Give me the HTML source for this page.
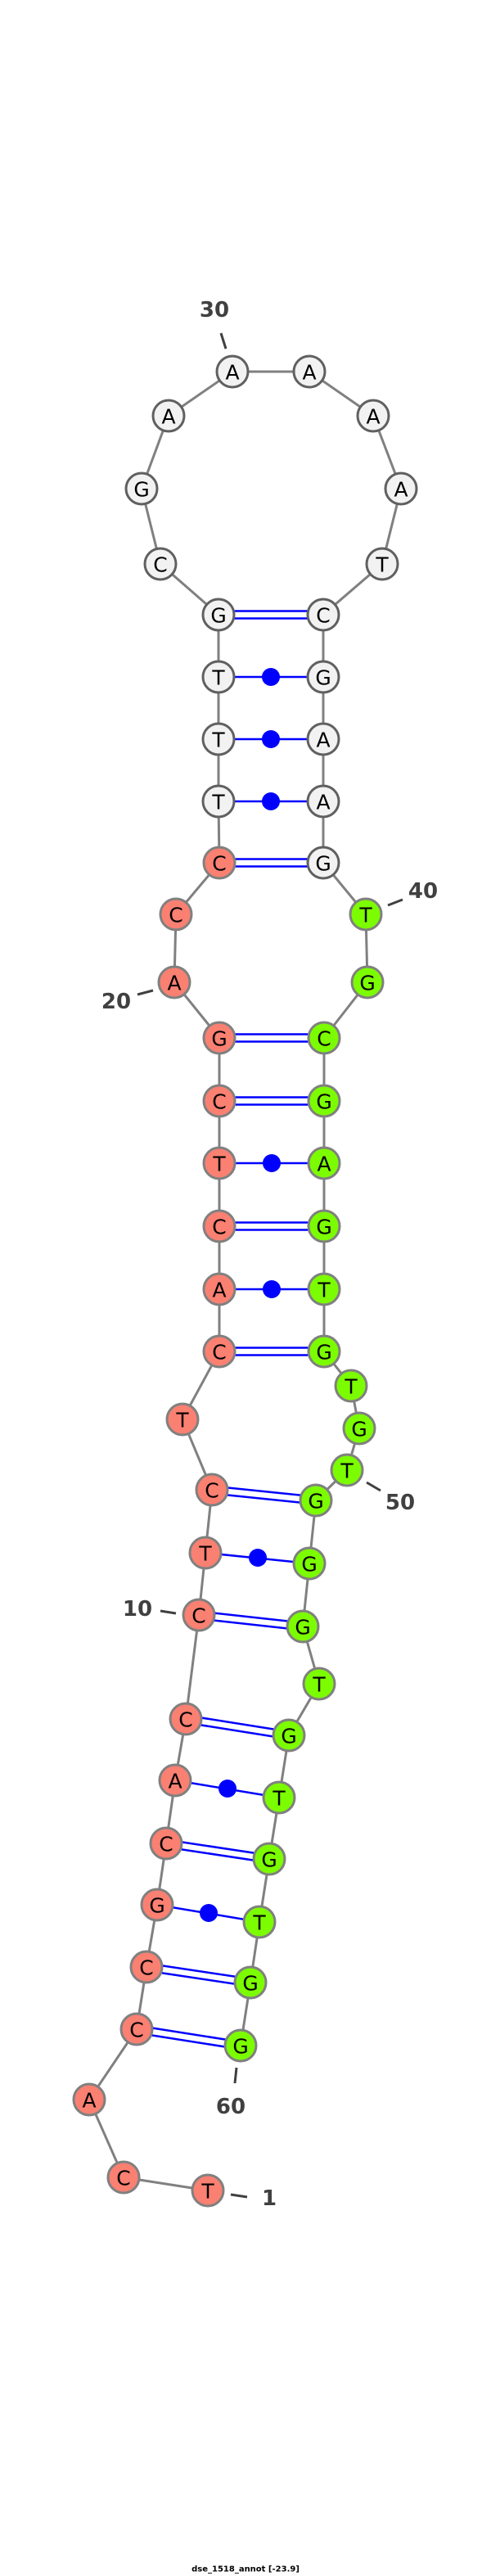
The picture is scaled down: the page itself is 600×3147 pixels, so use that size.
<!DOCTYPE html>
<html><head><meta charset="utf-8"><style>
html,body{margin:0;padding:0;background:#fff;}
svg{display:block;}
.b{stroke:#808080;stroke-width:3;fill:none;}
.p{stroke:#0000ff;stroke-width:2.5;fill:none;}
.w{fill:#f2f2f2;stroke:#606060;stroke-width:3;}
.s{fill:#fa8072;stroke:#808080;stroke-width:3;}
.g{fill:#7cfc00;stroke:#808080;stroke-width:3;}
.n text,text.n{font-family:"DejaVu Sans","Liberation Sans",sans-serif;font-size:25px;fill:#000;text-anchor:middle;dominant-baseline:central;}
.l{font-family:"DejaVu Sans","Liberation Sans",sans-serif;font-size:26px;font-weight:bold;fill:#404040;text-anchor:middle;dominant-baseline:central;}
.t{stroke:#404040;stroke-width:3;}
</style></head><body>
<svg width="600" height="3147" viewBox="0 0 600 3147" xmlns="http://www.w3.org/2000/svg">
<polyline class="b" points="254,2676 151,2660 109,2565 167,2479 179,2403 192,2327 203,2252 214,2175 227,2100 243,1973 251,1897 259,1820 223,1734 268,1651 268,1575 268,1498 268,1421 268,1345 268,1268 213,1200 215,1117 268,1054 267,979 267,903 267,827 267,751 196,689 173,597 206,508 284,454 378,454 456,508 490,597 467,689 395,751 395,827 395,903 395,979 395,1054 447,1117 449,1200 396,1268 396,1345 396,1421 396,1498 396,1575 396,1651 429,1693 439,1745 424,1796 386,1833 378,1910 370,1987 390,2057 353,2120 341,2196 329,2271 317,2348 306,2422 294,2499"/>
<!-- double pairs -->
<g class="p">
<path d="M267,746.5 L395,746.5 M267,755.5 L395,755.5"/>
<path d="M268,1049.5 L395,1049.5 M268,1058.5 L395,1058.5"/>
<path d="M268,1263.5 L396,1263.5 M268,1272.5 L396,1272.5"/>
<path d="M268,1340.5 L396,1340.5 M268,1349.5 L396,1349.5"/>
<path d="M268,1493.5 L396,1493.5 M268,1502.5 L396,1502.5"/>
<path d="M268,1646.5 L396,1646.5 M268,1655.5 L396,1655.5"/>
<path d="M259,1815.5 L386,1828.5 M259,1824.5 L386,1837.5"/>
<path d="M243,1968.5 L370,1982.5 M243,1977.5 L370,1991.5"/>
<path d="M227,2095.5 L353,2115.5 M227,2104.5 L353,2124.5"/>
<path d="M203,2247.5 L329,2266.5 M203,2256.5 L329,2275.5"/>
<path d="M179,2398.5 L306,2417.5 M179,2407.5 L306,2426.5"/>
<path d="M167,2474.5 L294,2494.5 M167,2483.5 L294,2503.5"/>
</g>
<!-- dot pairs -->
<g class="p">
<line x1="267" y1="827" x2="395" y2="827"/>
<line x1="267" y1="903" x2="395" y2="903"/>
<line x1="267" y1="979" x2="395" y2="979"/>
<line x1="268" y1="1421" x2="396" y2="1421"/>
<line x1="268" y1="1575" x2="396" y2="1575"/>
<line x1="251" y1="1897" x2="378" y2="1910"/>
<line x1="214" y1="2175" x2="341" y2="2196"/>
<line x1="192" y1="2327" x2="317" y2="2348"/>
</g>
<g fill="#0000ff">
<circle cx="331" cy="827" r="11"/>
<circle cx="331" cy="903" r="11"/>
<circle cx="331" cy="979" r="11"/>
<circle cx="332" cy="1421" r="11"/>
<circle cx="332" cy="1575" r="11"/>
<circle cx="315" cy="1903" r="11"/>
<circle cx="278" cy="2185" r="11"/>
<circle cx="255" cy="2337" r="11"/>
</g>
<!-- nodes -->
<g class="n">
<circle class="w" cx="284" cy="454" r="19"/><text x="284" y="455">A</text>
<circle class="w" cx="378" cy="454" r="19"/><text x="378" y="455">A</text>
<circle class="w" cx="456" cy="508" r="19"/><text x="456" y="509">A</text>
<circle class="w" cx="490" cy="597" r="19"/><text x="490" y="598">A</text>
<circle class="w" cx="467" cy="689" r="19"/><text x="467" y="690">T</text>
<circle class="w" cx="395" cy="751" r="19"/><text x="395" y="752">C</text>
<circle class="w" cx="267" cy="751" r="19"/><text x="267" y="752">G</text>
<circle class="w" cx="196" cy="689" r="19"/><text x="196" y="690">C</text>
<circle class="w" cx="173" cy="597" r="19"/><text x="173" y="598">G</text>
<circle class="w" cx="206" cy="508" r="19"/><text x="206" y="509">A</text>
<circle class="w" cx="267" cy="827" r="19"/><text x="267" y="828">T</text>
<circle class="w" cx="395" cy="827" r="19"/><text x="395" y="828">G</text>
<circle class="w" cx="267" cy="903" r="19"/><text x="267" y="904">T</text>
<circle class="w" cx="395" cy="903" r="19"/><text x="395" y="904">A</text>
<circle class="w" cx="267" cy="979" r="19"/><text x="267" y="980">T</text>
<circle class="w" cx="395" cy="979" r="19"/><text x="395" y="980">A</text>
<circle class="w" cx="395" cy="1054" r="19"/><text x="395" y="1055">G</text>

<circle class="s" cx="268" cy="1054" r="19"/><text x="268" y="1055">C</text>
<circle class="s" cx="215" cy="1117" r="19"/><text x="215" y="1118">C</text>
<circle class="s" cx="213" cy="1200" r="19"/><text x="213" y="1201">A</text>
<circle class="s" cx="268" cy="1268" r="19"/><text x="268" y="1269">G</text>
<circle class="s" cx="268" cy="1345" r="19"/><text x="268" y="1346">C</text>
<circle class="s" cx="268" cy="1421" r="19"/><text x="268" y="1422">T</text>
<circle class="s" cx="268" cy="1498" r="19"/><text x="268" y="1499">C</text>
<circle class="s" cx="268" cy="1575" r="19"/><text x="268" y="1576">A</text>
<circle class="s" cx="268" cy="1651" r="19"/><text x="268" y="1652">C</text>
<circle class="s" cx="223" cy="1734" r="19"/><text x="223" y="1735">T</text>
<circle class="s" cx="259" cy="1820" r="19"/><text x="259" y="1821">C</text>
<circle class="s" cx="251" cy="1897" r="19"/><text x="251" y="1898">T</text>
<circle class="s" cx="243" cy="1973" r="19"/><text x="243" y="1974">C</text>
<circle class="s" cx="227" cy="2100" r="19"/><text x="227" y="2101">C</text>
<circle class="s" cx="214" cy="2175" r="19"/><text x="214" y="2176">A</text>
<circle class="s" cx="203" cy="2252" r="19"/><text x="203" y="2253">C</text>
<circle class="s" cx="192" cy="2327" r="19"/><text x="192" y="2328">G</text>
<circle class="s" cx="179" cy="2403" r="19"/><text x="179" y="2404">C</text>
<circle class="s" cx="167" cy="2479" r="19"/><text x="167" y="2480">C</text>
<circle class="s" cx="109" cy="2565" r="19"/><text x="109" y="2566">A</text>
<circle class="s" cx="151" cy="2660" r="19"/><text x="151" y="2661">C</text>
<circle class="s" cx="254" cy="2676" r="19"/><text x="254" y="2677">T</text>

<circle class="g" cx="447" cy="1117" r="19"/><text x="447" y="1118">T</text>
<circle class="g" cx="449" cy="1200" r="19"/><text x="449" y="1201">G</text>
<circle class="g" cx="396" cy="1268" r="19"/><text x="396" y="1269">C</text>
<circle class="g" cx="396" cy="1345" r="19"/><text x="396" y="1346">G</text>
<circle class="g" cx="396" cy="1421" r="19"/><text x="396" y="1422">A</text>
<circle class="g" cx="396" cy="1498" r="19"/><text x="396" y="1499">G</text>
<circle class="g" cx="396" cy="1575" r="19"/><text x="396" y="1576">T</text>
<circle class="g" cx="396" cy="1651" r="19"/><text x="396" y="1652">G</text>
<circle class="g" cx="429" cy="1693" r="19"/><text x="429" y="1694">T</text>
<circle class="g" cx="439" cy="1745" r="19"/><text x="439" y="1746">G</text>
<circle class="g" cx="424" cy="1796" r="19"/><text x="424" y="1797">T</text>
<circle class="g" cx="386" cy="1833" r="19"/><text x="386" y="1834">G</text>
<circle class="g" cx="378" cy="1910" r="19"/><text x="378" y="1911">G</text>
<circle class="g" cx="370" cy="1987" r="19"/><text x="370" y="1988">G</text>
<circle class="g" cx="390" cy="2057" r="19"/><text x="390" y="2058">T</text>
<circle class="g" cx="353" cy="2120" r="19"/><text x="353" y="2121">G</text>
<circle class="g" cx="341" cy="2196" r="19"/><text x="341" y="2197">T</text>
<circle class="g" cx="329" cy="2271" r="19"/><text x="329" y="2272">G</text>
<circle class="g" cx="317" cy="2348" r="19"/><text x="317" y="2349">T</text>
<circle class="g" cx="306" cy="2422" r="19"/><text x="306" y="2423">G</text>
<circle class="g" cx="294" cy="2499" r="19"/><text x="294" y="2500">G</text>
</g>
<!-- labels -->
<line class="t" x1="270" y1="407" x2="276" y2="426"/>
<text class="l" x="262" y="379">30</text>
<line class="t" x1="474" y1="1106" x2="492" y2="1099"/>
<text class="l" x="517" y="1089">40</text>
<line class="t" x1="168" y1="1215" x2="187" y2="1210"/>
<text class="l" x="142" y="1224">20</text>
<line class="t" x1="448" y1="1811" x2="465" y2="1821"/>
<text class="l" x="489" y="1836">50</text>
<line class="t" x1="196" y1="1968" x2="215" y2="1971"/>
<text class="l" x="168" y="1966">10</text>
<line class="t" x1="289" y1="2526" x2="287" y2="2545"/>
<text class="l" x="282" y="2574">60</text>
<line class="t" x1="282" y1="2681" x2="302" y2="2684"/>
<text class="l" x="329" y="2686">1</text>
<text x="300" y="3139" style="font-family:'DejaVu Sans','Liberation Sans',sans-serif;font-size:10px;font-weight:bold;fill:#000;text-anchor:middle;dominant-baseline:central;">dse_1518_annot [-23.9]</text>
</svg>
</body></html>
